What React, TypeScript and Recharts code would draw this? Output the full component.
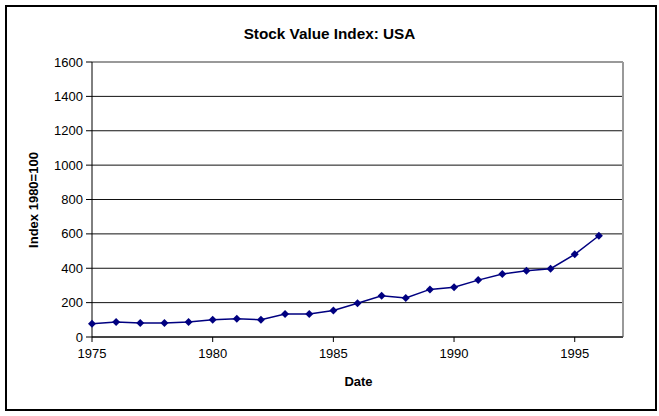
import { LineChart, Line, XAxis, YAxis, CartesianGrid, ReferenceLine } from "recharts";

const years = [1975, 1976, 1977, 1978, 1979, 1980, 1981, 1982, 1983, 1984, 1985, 1986, 1987, 1988, 1989, 1990, 1991, 1992, 1993, 1994, 1995, 1996];
const indexValues = [77, 87, 81, 81, 87, 100, 106, 100, 134, 134, 154, 196, 240, 227, 277, 289, 331, 366, 385, 397, 481, 589];
const xTicks = [1975, 1980, 1985, 1990, 1995];
const yTicks = [0, 200, 400, 600, 800, 1000, 1200, 1400, 1600];

const data = years.map((y, i) => ({ year: y, value: indexValues[i] }));

const font = "'Liberation Sans', Arial, sans-serif";

function Diamond(props: any) {
  const { cx, cy } = props;
  if (cx == null || cy == null) return null;
  const r = 4;
  return <polygon points={`${cx},${cy - r} ${cx + r},${cy} ${cx},${cy + r} ${cx - r},${cy}`} fill="#000080" />;
}

export default function App() {
  return (
    <div style={{ position: "relative", width: 659, height: 416, background: "#fff", fontFamily: font }}>
      <style>{"body{margin:0}"}</style>
      <div style={{ position: "absolute", left: 5, top: 5, width: 648, height: 402, border: "2px solid #000" }} />
      <div style={{ position: "absolute", left: 0, width: 659, top: 25, textAlign: "center", fontWeight: "bold", fontSize: 15.3, color: "#000" }}>
        Stock Value Index: USA
      </div>
      <div style={{ position: "absolute", left: 0, width: 659, top: 374, textAlign: "center", fontWeight: "bold", fontSize: 13, color: "#000", paddingLeft: 58, boxSizing: "border-box" }}>
        Date
      </div>
      <div style={{ position: "absolute", left: 33, top: 200, transform: "translate(-50%, -50%) rotate(-90deg)", whiteSpace: "nowrap", fontWeight: "bold", fontSize: 13, color: "#000" }}>
        Index 1980=100
      </div>
      <div style={{ position: "absolute", left: 0, top: 0 }}>
        <LineChart width={659} height={416} data={data} margin={{ top: 62, right: 36, bottom: 29, left: 0 }}>
          <CartesianGrid vertical={false} stroke="#111" strokeWidth={1} />
          <ReferenceLine y={1600} stroke="#999" strokeWidth={2} />
          <ReferenceLine x={1997} stroke="#999" strokeWidth={2} />
          <XAxis
            dataKey="year"
            type="number"
            domain={[1975, 1997]}
            ticks={xTicks}
            height={50}
            stroke="#000"
            tickSize={5}
            tickMargin={7}
            tick={{ fill: "#000", fontSize: 13, fontFamily: font }}
          />
          <YAxis
            domain={[0, 1600]}
            ticks={yTicks}
            width={92}
            stroke="#000"
            tickSize={6}
            tickMargin={3}
            tick={{ fill: "#000", fontSize: 13, fontFamily: font }}
          />
          <Line dataKey="value" stroke="#000080" strokeWidth={1.5} dot={<Diamond />} isAnimationActive={false} />
        </LineChart>
      </div>
    </div>
  );
}
